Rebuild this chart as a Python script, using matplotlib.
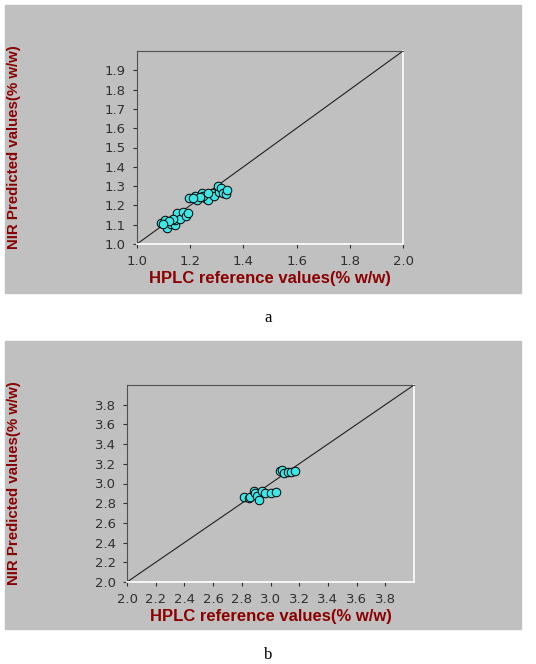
import matplotlib
matplotlib.use("Agg")
from matplotlib import pyplot as plt
from matplotlib.patches import Rectangle

# ---- dados ----
# painel a
a_ref = [1.089, 1.106, 1.111, 1.128, 1.141, 1.144, 1.150, 1.160, 1.173, 1.185, 1.192, 1.134, 1.121, 1.098,
         1.196, 1.217, 1.226, 1.243, 1.256, 1.268, 1.249, 1.281, 1.288, 1.307, 1.304, 1.316, 1.323, 1.336,
         1.339, 1.268, 1.236, 1.211]
a_pred = [1.109, 1.123, 1.084, 1.105, 1.096, 1.123, 1.161, 1.132, 1.167, 1.144, 1.163, 1.132, 1.119, 1.102,
          1.240, 1.249, 1.228, 1.263, 1.237, 1.228, 1.249, 1.263, 1.249, 1.272, 1.302, 1.289, 1.263, 1.260,
          1.281, 1.263, 1.242, 1.237]
a_xticks = [1.0, 1.2, 1.4, 1.6, 1.8, 2.0]
a_yticks = [1.0, 1.1, 1.2, 1.3, 1.4, 1.5, 1.6, 1.7, 1.8, 1.9]

# painel b
b_ref = [3.065, 3.082, 3.093, 3.121, 3.145, 3.168,
         2.813, 2.848, 2.860, 2.883, 2.895, 2.907, 2.918, 2.942, 2.965, 3.000, 3.035]
b_pred = [3.122, 3.132, 3.106, 3.112, 3.116, 3.122,
          2.862, 2.851, 2.861, 2.919, 2.902, 2.875, 2.834, 2.919, 2.908, 2.908, 2.911]
b_xticks = [2.0, 2.2, 2.4, 2.6, 2.8, 3.0, 3.2, 3.4, 3.6, 3.8]
b_yticks = [2.0, 2.2, 2.4, 2.6, 2.8, 3.0, 3.2, 3.4, 3.6, 3.8]

xlabel = "HPLC reference values(% w/w)"
ylabel = "NIR Predicted values(% w/w)"

cinza = "#c0c0c0"
vermelho = "#8b0000"

fig = plt.figure(figsize=(5.36, 6.64), dpi=100)
W, H = 536, 664

def painel(y0, y1, ax_box, lims, xt, yt, xs, ys, letra, letra_y):
    # fundo cinza
    fig.add_artist(Rectangle((5 / W, 1 - y1 / H), 516 / W, (y1 - y0) / H,
                             transform=fig.transFigure, color=cinza, zorder=-10))
    l, r, t, b = ax_box
    ax = fig.add_axes([l / W, 1 - b / H, (r - l) / W, (b - t) / H])
    ax.set_facecolor(cinza)
    ax.plot(lims, lims, color="#202020", lw=0.8, zorder=2)
    ax.scatter(xs, ys, s=38, color="#3ee6e6", edgecolors="black", linewidths=0.7, zorder=3)
    ax.set_xlim(lims)
    ax.set_ylim(lims)
    ax.set_xticks(xt)
    ax.set_yticks(yt)
    ax.set_xticklabels(["%.1f" % v for v in xt])
    ax.set_yticklabels(["%.1f" % v for v in yt])
    ax.tick_params(labelsize=9.5, colors="#303030", length=3, width=0.8, pad=5)
    for lado in ["left", "top"]:
        ax.spines[lado].set_color("#505050")
    for lado in ["right", "bottom"]:
        ax.spines[lado].set_color("white")
        ax.spines[lado].set_linewidth(1.2)
    ax.set_xlabel(xlabel, color=vermelho, fontsize=12, fontweight="bold",
                  family="Liberation Sans", labelpad=2)
    ax.set_ylabel(ylabel, color=vermelho, fontsize=10.8, fontweight="bold",
                  family="Liberation Sans")
    ax.yaxis.set_label_coords(-(l - 21) / (r - l), 0.5)
    fig.text(0.5, 1 - letra_y / H, letra, ha="center", va="center",
             fontsize=12, family="Liberation Serif")
    return ax

painel(5, 293, (137, 403, 51, 244), [1.0, 2.0], a_xticks, a_yticks, a_ref, a_pred, "a", 318)
painel(341, 629, (127, 414, 385, 582), [2.0, 4.0], b_xticks, b_yticks, b_ref, b_pred, "b", 655)

fig.savefig("out.png", dpi=100, facecolor="white")
